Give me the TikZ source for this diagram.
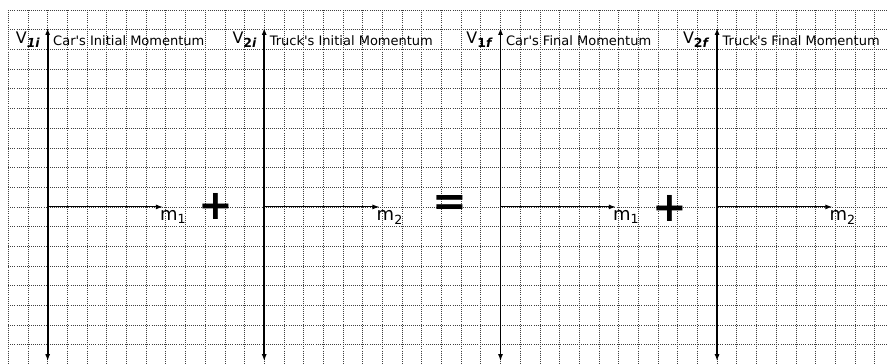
\documentclass[tikz,border=0pt]{standalone}
\usepackage{fontspec}
\setmainfont{DejaVu Sans}
\usetikzlibrary{positioning,arrows.meta}

\tikzset{
  gridline/.style={densely dotted, black!75, line width=0.5pt},
  vaxis/.style={{Latex[length=5pt,width=3.6pt]}-{Latex[length=5pt,width=3.6pt]}, line width=1.3pt},
  haxis/.style={-{Latex[length=5pt,width=3.6pt]}, line width=0.8pt},
  vlabel/.style={anchor=base east, inner sep=0pt, font=\fontsize{11.5}{12}\selectfont},
  titlelabel/.style={anchor=base west, inner sep=0pt, font=\fontsize{9.4}{10}\selectfont},
  masslabel/.style={anchor=north west, inner sep=0pt, font=\fontsize{13}{13}\selectfont},
  opsign/.style={inner sep=0pt, font=\fontsize{30}{30}\selectfont\bfseries}
}
\newcommand{\velsub}[1]{\raisebox{-0.45ex}{\fontsize{9}{9}\selectfont\bfseries #1}}

\begin{document}
\begin{tikzpicture}[x=0.5cm,y=0.5cm]
\useasboundingbox (-0.42,0.51) rectangle (44.63,-17.93);
% graph paper
\begin{scope}
\clip (-0.42,0.51) rectangle (44.63,-17.93);
\foreach \i in {0,...,45} \draw[gridline] (\i,0) -- (\i,-18.5);
\foreach \k in {0,...,18} \draw[gridline] (0,-\k) -- (45.5,-\k);
\end{scope}
% one set of axes per momentum
\foreach \x/\n/\s/\t/\m in {2/a/\textit{1i}/Car\textquotesingle s Initial Momentum/1,
    13/b/2\textit{i}/Truck\textquotesingle s Initial Momentum/2,
    25/c/1\textit{f}/Car\textquotesingle s Final Momentum/1,
    36/d/2\textit{f}/Truck\textquotesingle s Final Momentum/2}{
  \coordinate (top\n) at (\x,-0.91);
  \coordinate (bot\n) at (\x,-17.83);
  \coordinate (org\n) at (\x,-10);
  \coordinate (end\n) at (\x+5.85,-10);
  \draw[vaxis] (bot\n) -- (top\n);
  \draw[haxis] (org\n) -- (end\n);
  \node[vlabel] (vel\n) at (\x-0.38,-1.68) {V\velsub{\s}};
  \node[titlelabel] (title\n) at (\x+0.27,-1.78) {\t};
  \node[masslabel] (mass\n) at (\x+5.7,-10.16) {m\textsubscript{\m}};
}
% plus and equals signs
\node[opsign] (plusA) at (10.55,-9.97) {+};
\node[opsign] (equals) at (22.43,-9.93) {=};
\node[opsign] (plusB) at (33.6,-10.1) {+};
\end{tikzpicture}
\end{document}
